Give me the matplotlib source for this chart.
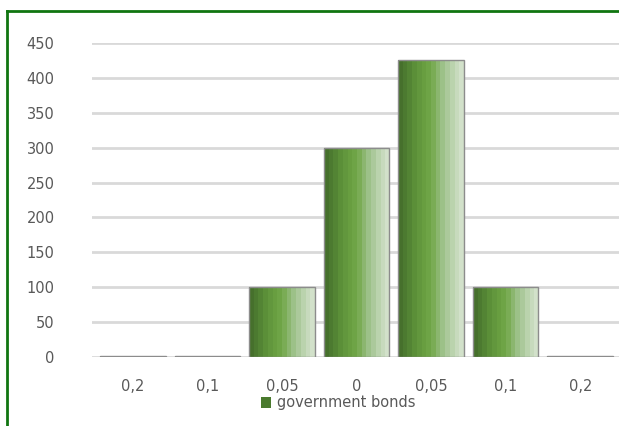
import numpy as np
import matplotlib
matplotlib.use("Agg")
import matplotlib.pyplot as plt
from matplotlib.colors import LinearSegmentedColormap
from matplotlib.patches import Rectangle
from matplotlib.lines import Line2D

categories = ["0,2", "0,1", "0,05", "0", "0,05", "0,1", "0,2"]
values = [2, 2, 100, 300, 425, 100, 2]
series_name = "government bonds"
yticks = [0, 50, 100, 150, 200, 250, 300, 350, 400, 450]

W, H = 619, 426
fig = plt.figure(figsize=(W / 100, H / 100), dpi=100)
ax = fig.add_axes([92 / W, (H - 357) / H, (619 - 92) / W, (357 - 43) / H])

grad_colors = ["#46702c", "#4f7f32", "#5b8e38", "#659b3f", "#6ca343",
               "#7dae59", "#97be82", "#adcb9e", "#c2d8b7", "#d2e1ca"]
cmap = LinearSegmentedColormap.from_list("g", grad_colors)
nb = 14
grad = np.linspace(0, 1, nb).reshape(1, nb)

x = np.arange(len(categories))
bars = ax.bar(x, values, width=0.88, facecolor="none", edgecolor="#8c8c8c",
              linewidth=1.0, zorder=4)
for rect in bars:
    bx, by = rect.get_x(), rect.get_y()
    bw, bh = rect.get_width(), rect.get_height()
    im = ax.imshow(grad, cmap=cmap, extent=(bx, bx + bw, by, by + bh),
                   aspect="auto", interpolation="nearest", zorder=3)
    im.set_clip_path(rect)

for yv in yticks:
    ax.axhline(yv, color="#d9d9d9", linewidth=2, zorder=1)

ax.set_xlim(-0.55, 6.52)
ax.set_ylim(0, 450)
ax.set_yticks(yticks)
ax.set_xticks(x)
ax.set_xticklabels(categories)
for s in ax.spines.values():
    s.set_visible(False)
ax.tick_params(axis="both", length=0, colors="#595959", labelsize=10.5)
ax.tick_params(axis="y", pad=27)
ax.tick_params(axis="x", pad=16)

# legend
fig.legend(handles=[Rectangle((0, 0), 1, 1, facecolor="#4a7a2e", edgecolor="none")],
           labels=[series_name], loc="center", bbox_to_anchor=(338 / W, (H - 403) / H),
           frameon=False, fontsize=10.5, labelcolor="#595959", handlelength=0.7,
           handleheight=0.7, handletextpad=0.4, borderpad=0)

# green frame (top and left)
fig.add_artist(Line2D([7 / W, 1], [(H - 11) / H, (H - 11) / H], color="#107510", linewidth=2))
fig.add_artist(Line2D([7 / W, 7 / W], [0, (H - 11) / H], color="#107510", linewidth=2))

fig.savefig("out.png", dpi=100)
